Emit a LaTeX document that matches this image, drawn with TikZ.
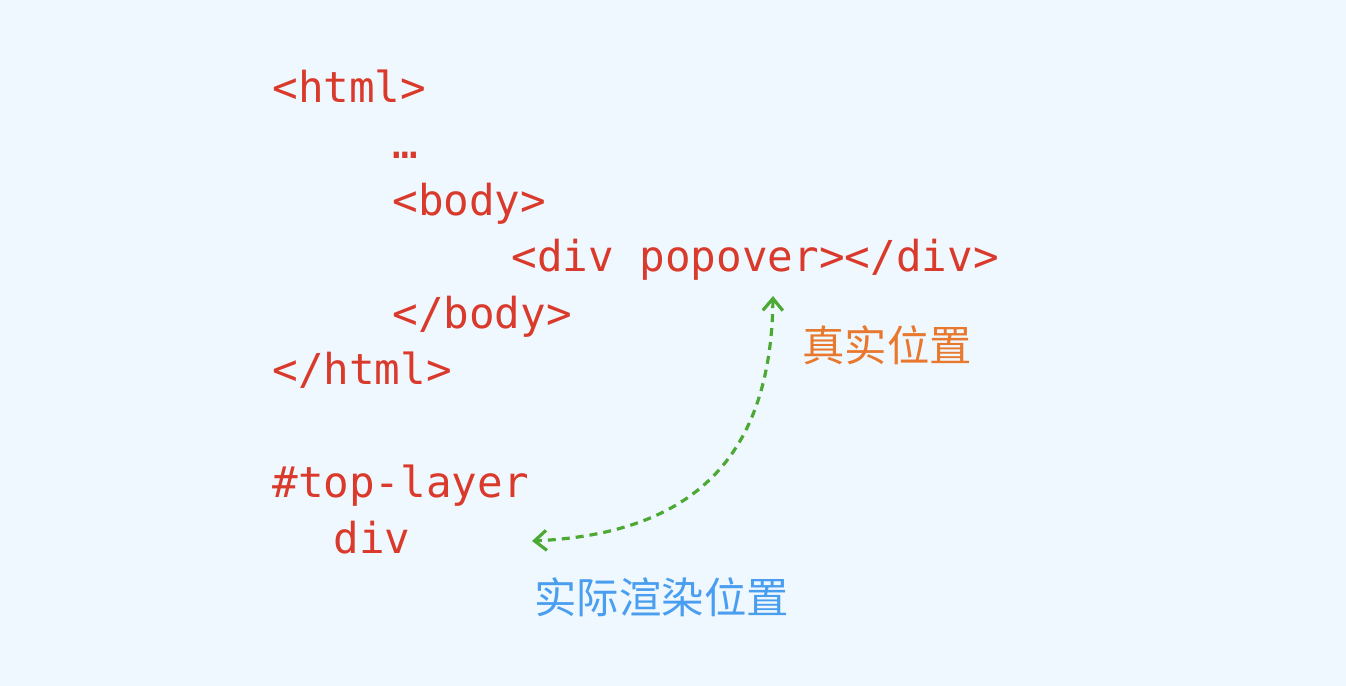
\documentclass[tikz,border=0pt]{standalone}
\usepackage{fontspec}
\newfontfamily\codefont{DejaVu Sans Mono}
\newfontfamily\cjk{Noto Sans CJK SC}
\usetikzlibrary{
    arrows.meta,
    positioning
}
\definecolor{bgblue}{HTML}{F0F8FF}
\definecolor{codered}{HTML}{D93A2B}
\definecolor{realorange}{HTML}{E8782E}
\definecolor{renderblue}{HTML}{4A9EF0}
\definecolor{linkgreen}{HTML}{4CAA34}

\begin{document}
\begin{tikzpicture}[
    x=0.5pt, y=-0.5pt,
    code/.style={anchor=base west, inner sep=0pt, text=codered,
                 font=\codefont\fontsize{21.3pt}{25pt}\selectfont},
    note/.style={anchor=west, inner sep=0pt,
                 font=\cjk\fontsize{21.2pt}{25pt}\selectfont},
    link/.style={{Straight Barb[length=6pt,width=10pt]}-{Straight Barb[length=6pt,width=10pt]},
                 linkgreen, line width=1.6pt, dash pattern=on 4pt off 3pt}
]

% =========================
% background and frame
% =========================
\fill[bgblue] (0,0) rectangle (1346,686);
\useasboundingbox (0,0) rectangle (1346,686);

% =========================
% 1) DOM TREE
% =========================
\node[code] (html)     at (272,102) {<html>};
\node[code] (dots)     at (392,158) {…};
\node[code] (body)     at (392,215) {<body>};
\node[code] (div)      at (511,271) {<div popover></div>};
\node[code] (bodyend)  at (392,328) {</body>};
\node[code] (htmlend)  at (272,384) {</html>};

% =========================
% 2) TOP LAYER
% =========================
\node[code] (toplayer) at (272,497) {\#top-layer};
\node[code] (topdiv)   at (333,553) {div};

% labels
\node[note, text=realorange] (real)   at (802,345) {真实位置};
\node[note, text=renderblue] (render) at (534,597) {实际渲染位置};

% arrow between the two positions
\coordinate (realpos)   at (773,296);
\coordinate (renderpos) at (532,541);
\draw[link] (realpos) .. controls (771,465) and (685,534) .. (renderpos);

\end{tikzpicture}
\end{document}
